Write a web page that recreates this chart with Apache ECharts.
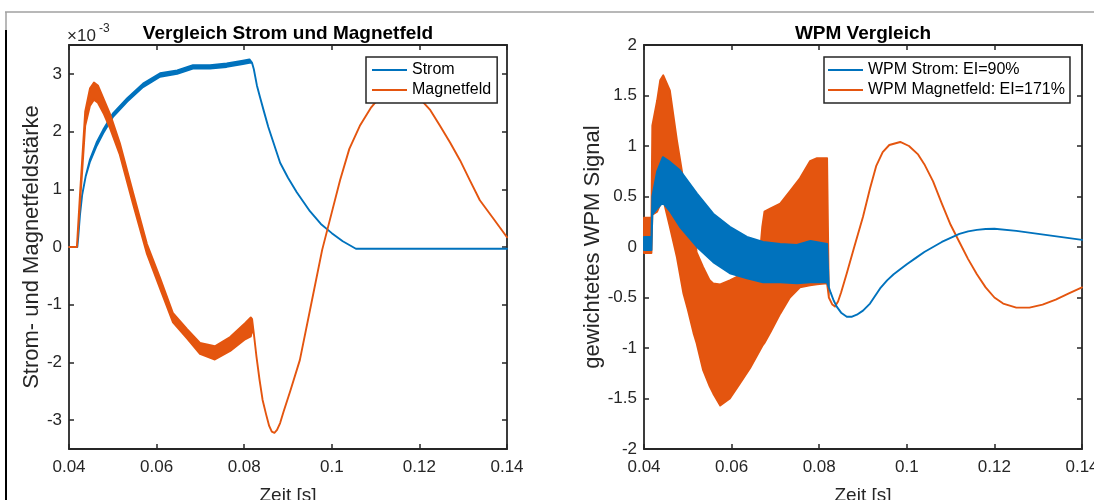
<!DOCTYPE html>
<html>
<head>
<meta charset="utf-8">
<script src="https://cdn.jsdelivr.net/npm/echarts@6/dist/echarts.min.js"></script>
<style>
html,body{margin:0;padding:0;background:#fff;}
#chart{width:1094px;height:500px;}
</style>
</head>
<body>
<div id="chart"></div>
<script>
// ---------- tick labels ----------
const xTicks = [0.04, 0.06, 0.08, 0.1, 0.12, 0.14];
const xTickLabels = ['0.04', '0.06', '0.08', '0.1', '0.12', '0.14'];
const yLeftTicks = [-3, -2, -1, 0, 1, 2, 3];
const yLeftTickLabels = ['-3', '-2', '-1', '0', '1', '2', '3'];
const yRightTicks = [-2, -1.5, -1, -0.5, 0, 0.5, 1, 1.5, 2];
const yRightTickLabels = ['-2', '-1.5', '-1', '-0.5', '0', '0.5', '1', '1.5', '2'];

// ---------- left plot: Strom (x1e-3), lo/hi = ripple envelope ----------
const stromT  = [0.04, 0.0419, 0.0421, 0.0425, 0.0430, 0.0438, 0.0448, 0.0463, 0.0478, 0.0501, 0.0533, 0.0569, 0.0608, 0.0647, 0.0683, 0.0722, 0.0760, 0.0797, 0.0812, 0.0818, 0.0822, 0.0829, 0.0836, 0.0845, 0.0855, 0.0865, 0.0882, 0.0900, 0.0920, 0.0950, 0.0975, 0.1000, 0.1025, 0.1055, 0.1200, 0.14];
const stromLo = [0, 0, 0.16, 0.55, 0.9, 1.22, 1.48, 1.75, 1.97, 2.26, 2.52, 2.77, 2.95, 3.0, 3.09, 3.09, 3.12, 3.17, 3.19, 3.19, 3.08, 2.8, 2.6, 2.35, 2.08, 1.85, 1.46, 1.2, 0.95, 0.62, 0.4, 0.24, 0.1, -0.03, -0.03, -0.03];
const stromHi = [0, 0, 0.16, 0.55, 0.9, 1.22, 1.52, 1.81, 2.03, 2.32, 2.58, 2.83, 3.01, 3.06, 3.15, 3.15, 3.18, 3.23, 3.25, 3.19, 3.08, 2.8, 2.6, 2.35, 2.08, 1.85, 1.46, 1.2, 0.95, 0.62, 0.4, 0.24, 0.1, -0.03, -0.03, -0.03];

// ---------- left plot: Magnetfeld (x1e-3) ----------
const magT  = [0.04, 0.0418, 0.0425, 0.0430, 0.0437, 0.0448, 0.0457, 0.0466, 0.0480, 0.0494, 0.0516, 0.0546, 0.0578, 0.0608, 0.0637, 0.0669, 0.0699, 0.0733, 0.0768, 0.0802, 0.0815, 0.0818, 0.0822, 0.0828, 0.0835, 0.0842, 0.0850, 0.0857, 0.0863, 0.0869, 0.0875, 0.0882, 0.0890, 0.0905, 0.0927, 0.0950, 0.0978, 0.1000, 0.1019, 0.1040, 0.1064, 0.1090, 0.1110, 0.1135, 0.1156, 0.1180, 0.1200, 0.1225, 0.1247, 0.1270, 0.1293, 0.1315, 0.1338, 0.1370, 0.14];
const magLo = [0, 0, 0.75, 1.3, 2.1, 2.45, 2.55, 2.5, 2.3, 2.05, 1.6, 0.75, -0.12, -0.72, -1.3, -1.58, -1.85, -1.95, -1.8, -1.6, -1.55, -1.45, -1.5, -1.9, -2.3, -2.65, -2.9, -3.1, -3.2, -3.22, -3.17, -3.05, -2.85, -2.5, -1.96, -1.1, -0.05, 0.6, 1.16, 1.7, 2.1, 2.42, 2.6, 2.75, 2.8, 2.72, 2.58, 2.37, 2.1, 1.81, 1.5, 1.16, 0.81, 0.48, 0.17];
const magHi = [0, 0, 0.9, 1.5, 2.35, 2.75, 2.85, 2.8, 2.55, 2.3, 1.8, 0.95, 0.05, -0.54, -1.14, -1.42, -1.66, -1.72, -1.56, -1.32, -1.22, -1.25, -1.5, -1.9, -2.3, -2.65, -2.9, -3.1, -3.2, -3.22, -3.17, -3.05, -2.85, -2.5, -1.96, -1.1, -0.05, 0.6, 1.16, 1.7, 2.1, 2.42, 2.6, 2.75, 2.8, 2.72, 2.58, 2.37, 2.1, 1.81, 1.5, 1.16, 0.81, 0.48, 0.17];

// ---------- right plot: WPM Strom ----------
const wpmStromT  = [0.04, 0.0417, 0.0419, 0.0430, 0.0443, 0.0460, 0.0482, 0.0521, 0.0558, 0.0596, 0.0635, 0.0672, 0.0711, 0.0749, 0.0780, 0.0818, 0.0822, 0.0826, 0.0833, 0.0840, 0.0850, 0.0863, 0.0875, 0.0886, 0.0900, 0.0916, 0.0939, 0.0955, 0.0970, 0.0985, 0.1000, 0.1020, 0.1040, 0.1060, 0.1080, 0.1100, 0.1120, 0.1140, 0.1160, 0.1180, 0.1200, 0.1250, 0.1300, 0.1350, 0.14];
const wpmStromLo = [-0.03, -0.03, 0.32, 0.38, 0.44, 0.35, 0.2, 0.0, -0.15, -0.26, -0.31, -0.35, -0.35, -0.36, -0.35, -0.35, -0.4, -0.45, -0.53, -0.59, -0.65, -0.69, -0.69, -0.67, -0.63, -0.56, -0.41, -0.33, -0.27, -0.22, -0.17, -0.11, -0.05, 0.0, 0.05, 0.09, 0.13, 0.155, 0.17, 0.178, 0.18, 0.16, 0.13, 0.1, 0.07];
const wpmStromHi = [0.1, 0.1, 0.5, 0.75, 0.89, 0.84, 0.76, 0.53, 0.33, 0.2, 0.1, 0.05, 0.03, 0.02, 0.06, 0.03, -0.4, -0.45, -0.53, -0.59, -0.65, -0.69, -0.69, -0.67, -0.63, -0.56, -0.41, -0.33, -0.27, -0.22, -0.17, -0.11, -0.05, 0.0, 0.05, 0.09, 0.13, 0.155, 0.17, 0.178, 0.18, 0.16, 0.13, 0.1, 0.07];

// ---------- right plot: WPM Magnetfeld ----------
const wpmMagT  = [0.04, 0.0417, 0.0419, 0.0430, 0.0437, 0.0444, 0.0459, 0.0475, 0.0490, 0.0500, 0.0513, 0.0520, 0.0535, 0.0550, 0.0558, 0.0574, 0.0596, 0.0619, 0.0642, 0.0665, 0.0670, 0.0675, 0.0688, 0.0711, 0.0733, 0.0756, 0.0779, 0.0795, 0.0818, 0.0822, 0.0830, 0.0836, 0.0843, 0.0850, 0.0863, 0.0880, 0.0900, 0.0916, 0.0930, 0.0945, 0.0960, 0.0985, 0.1005, 0.1025, 0.1040, 0.1060, 0.1080, 0.1100, 0.1120, 0.1140, 0.1160, 0.1180, 0.1200, 0.1220, 0.1250, 0.1280, 0.1310, 0.1340, 0.1370, 0.14];
const wpmMagLo = [-0.06, -0.06, 0.32, 0.35, 0.42, 0.47, 0.2, -0.1, -0.46, -0.62, -0.85, -0.95, -1.22, -1.38, -1.45, -1.57, -1.5, -1.35, -1.2, -1.02, -0.98, -0.95, -0.85, -0.66, -0.5, -0.4, -0.38, -0.37, -0.36, -0.5, -0.57, -0.59, -0.54, -0.45, -0.26, 0.0, 0.3, 0.58, 0.8, 0.94, 1.01, 1.04, 1.0, 0.92, 0.82, 0.65, 0.43, 0.22, 0.05, -0.12, -0.27, -0.4, -0.5, -0.56, -0.6, -0.6, -0.57, -0.52, -0.46, -0.4];
const wpmMagHi = [0.29, 0.29, 1.2, 1.45, 1.65, 1.70, 1.55, 1.06, 0.66, 0.5, 0.3, -0.05, -0.2, -0.33, -0.36, -0.37, -0.33, -0.28, -0.24, -0.05, 0.2, 0.35, 0.38, 0.43, 0.55, 0.68, 0.85, 0.88, 0.88, -0.5, -0.57, -0.59, -0.54, -0.45, -0.26, 0.0, 0.3, 0.58, 0.8, 0.94, 1.01, 1.04, 1.0, 0.92, 0.82, 0.65, 0.43, 0.22, 0.05, -0.12, -0.27, -0.4, -0.5, -0.56, -0.6, -0.6, -0.57, -0.52, -0.46, -0.4];

// ---------- styling ----------
const FONT = '"Liberation Sans", Arial, Helvetica, sans-serif';
const AXC = '#262626';
const BLUE = '#0072BD';
const ORANGE = '#E4550F';

function labelFor(ticks, labels) {
  return function (v) {
    for (let i = 0; i < ticks.length; i++) if (Math.abs(ticks[i] - v) < 1e-9) return labels[i];
    return '';
  };
}

function mkX(grid, pos, withLabels) {
  return {
    type: 'value', gridIndex: grid, position: pos, min: 0.04, max: 0.14, interval: 0.02,
    name: withLabels ? 'Zeit [s]' : '', nameLocation: 'middle', nameGap: 37,
    nameTextStyle: { fontFamily: FONT, fontSize: 19, color: AXC },
    axisLine: { show: true, onZero: false, lineStyle: { color: AXC, width: 1.8 } },
    axisTick: { show: true, inside: true, length: 5, customValues: xTicks, lineStyle: { color: AXC, width: 1.5 } },
    axisLabel: { show: withLabels, customValues: xTicks, margin: 10, fontFamily: FONT, fontSize: 17, color: AXC,
                 formatter: labelFor(xTicks, xTickLabels) },
    splitLine: { show: false }
  };
}

function mkY(grid, pos, withLabels, min, max, ticks, labels, name, gap) {
  return {
    type: 'value', gridIndex: grid, position: pos, min: min, max: max,
    name: withLabels ? name : '', nameLocation: 'middle', nameGap: gap, nameRotate: 90,
    nameTextStyle: { fontFamily: FONT, fontSize: 22, color: AXC },
    axisLine: { show: true, onZero: false, lineStyle: { color: AXC, width: 1.8 } },
    axisTick: { show: true, inside: true, length: 5, customValues: ticks, lineStyle: { color: AXC, width: 1.5 } },
    axisLabel: { show: withLabels, customValues: ticks, margin: 7, fontFamily: FONT, fontSize: 17, color: AXC,
                 formatter: labelFor(ticks, labels) },
    splitLine: { show: false }
  };
}

function bandSeries(name, T, LO, HI, color, xi, yi) {
  return {
    type: 'custom', name: name, xAxisIndex: xi, yAxisIndex: yi,
    itemStyle: { color: color },
    data: T.map((t, i) => [t, LO[i], HI[i]]),
    encode: { x: 0, y: [1, 2] },
    renderItem: function (params, api) {
      if (params.dataIndex !== 0) return null;
      const pts = [];
      for (let i = 0; i < T.length; i++) pts.push(api.coord([T[i], HI[i]]));
      for (let i = T.length - 1; i >= 0; i--) pts.push(api.coord([T[i], LO[i]]));
      return {
        type: 'polygon', shape: { points: pts },
        style: { fill: color, stroke: color, lineWidth: 1.9, lineJoin: 'round' }
      };
    }
  };
}

const legendBase = {
  orient: 'vertical', icon: 'rect', itemWidth: 35, itemHeight: 2, itemGap: 4,
  backgroundColor: '#fff', borderColor: AXC, borderWidth: 1.5,
  textStyle: { fontFamily: FONT, fontSize: 16, color: '#000' }
};

const option = {
  animation: false,
  backgroundColor: '#fff',
  grid: [
    { left: 69, top: 45, width: 438, height: 404, containLabel: false, outerBoundsMode: 'none' },
    { left: 644, top: 45, width: 438, height: 404, containLabel: false, outerBoundsMode: 'none' }
  ],
  xAxis: [mkX(0, 'bottom', true), mkX(0, 'top', false), mkX(1, 'bottom', true), mkX(1, 'top', false)],
  yAxis: [
    mkY(0, 'left', true, -3.5, 3.5, yLeftTicks, yLeftTickLabels, 'Strom- und Magnetfeldstärke', 25),
    mkY(0, 'right', false, -3.5, 3.5, yLeftTicks, yLeftTickLabels, '', 0),
    mkY(1, 'left', true, -2, 2, yRightTicks, yRightTickLabels, 'gewichtetes WPM Signal', 37),
    mkY(1, 'right', false, -2, 2, yRightTicks, yRightTickLabels, '', 0)
  ],
  legend: [
    Object.assign({}, legendBase, { left: 366, top: 57, padding: [5, 6, 5, 6], data: ['Strom', 'Magnetfeld'] }),
    Object.assign({}, legendBase, { left: 824, top: 57, padding: [5, 5, 5, 4], data: ['WPM Strom: EI=90%', 'WPM Magnetfeld: EI=171%'] })
  ],
  series: [
    bandSeries('Strom', stromT, stromLo, stromHi, BLUE, 0, 0),
    bandSeries('Magnetfeld', magT, magLo, magHi, ORANGE, 0, 0),
    bandSeries('WPM Magnetfeld: EI=171%', wpmMagT, wpmMagLo, wpmMagHi, ORANGE, 2, 2),
    bandSeries('WPM Strom: EI=90%', wpmStromT, wpmStromLo, wpmStromHi, BLUE, 2, 2)
  ],
  graphic: [
    { type: 'text', x: 288, y: 34, style: { text: 'Vergleich Strom und Magnetfeld', fontFamily: FONT, fontSize: 19, fontWeight: 'bold', fill: '#000', textAlign: 'center', textVerticalAlign: 'middle' } },
    { type: 'text', x: 863, y: 34, style: { text: 'WPM Vergleich', fontFamily: FONT, fontSize: 19, fontWeight: 'bold', fill: '#000', textAlign: 'center', textVerticalAlign: 'middle' } },
    { type: 'text', x: 67, y: 36, style: { text: '×10', fontFamily: FONT, fontSize: 17, fill: AXC, textAlign: 'left', textVerticalAlign: 'middle' } },
    { type: 'text', x: 99, y: 29, style: { text: '-3', fontFamily: FONT, fontSize: 12, fill: AXC, textAlign: 'left', textVerticalAlign: 'middle' } },
    { type: 'line', shape: { x1: 5, y1: 12, x2: 1094, y2: 12 }, style: { stroke: '#a0a0a0', lineWidth: 1.5 } },
    { type: 'line', shape: { x1: 6, y1: 12, x2: 6, y2: 30 }, style: { stroke: '#a0a0a0', lineWidth: 1.5 } },
    { type: 'line', shape: { x1: 6, y1: 30, x2: 6, y2: 500 }, style: { stroke: '#000', lineWidth: 2 } }
  ]
};

const chart = echarts.init(document.getElementById('chart'), null, { renderer: 'canvas' });
chart.setOption(option);
</script>
</body>
</html>
